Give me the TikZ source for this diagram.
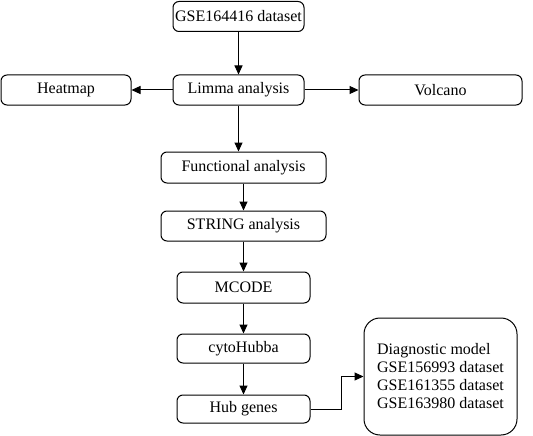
\documentclass[tikz,border=0pt]{standalone}
\usepackage{fontspec}
\setmainfont{Liberation Serif}
\usetikzlibrary{arrows.meta}
\begin{document}
\begin{tikzpicture}[x=1pt,y=-1pt,
  box/.style={draw,line width=1pt,rounded corners=6pt,inner sep=0pt,font=\fontsize{16}{18}\selectfont},
  arr/.style={line width=1pt,-{Triangle[length=9pt,width=8pt]}}]
\useasboundingbox (0,0) rectangle (533,436);
\node[box,minimum width=131,minimum height=30] (gse) at (238.5,16.5) {GSE164416 dataset};
\node[box,minimum width=131,minimum height=30] (lim) at (238.5,90) {Limma analysis};
\node[box,minimum width=130,minimum height=30] (heat) at (66,90) {Heatmap};
\node[box,minimum width=163,minimum height=30] (vol) at (440.5,90) {Volcano};
\node[box,minimum width=165,minimum height=31] (fun) at (243.5,167.5) {Functional analysis};
\node[box,minimum width=165,minimum height=30] (str) at (243.5,226) {STRING analysis};
\node[box,minimum width=133,minimum height=31] (mco) at (243.5,287.5) {MCODE};
\node[box,minimum width=133,minimum height=29] (cyt) at (243.5,348.5) {cytoHubba};
\node[box,minimum width=133,minimum height=28] (hub) at (243.5,409) {Hub genes};
\node[box,rounded corners=16pt,minimum width=153,minimum height=117,align=left] (dia) at (440.5,376.5)
  {Diagnostic model\\GSE156993 dataset\\GSE161355 dataset\\GSE163980 dataset};
\coordinate (bend) at (341,409);
\draw[arr] (gse) -- (lim);
\draw[arr] (lim) -- (heat);
\draw[arr] (lim) -- (vol);
\draw[arr] (lim.south) -- (lim.south |- fun.north);
\draw[arr] (fun) -- (str);
\draw[arr] (str) -- (mco);
\draw[arr] (mco) -- (cyt);
\draw[arr] (cyt) -- (hub);
\draw[arr] (hub.east) -- (bend) |- (dia.west);
\end{tikzpicture}
\end{document}
